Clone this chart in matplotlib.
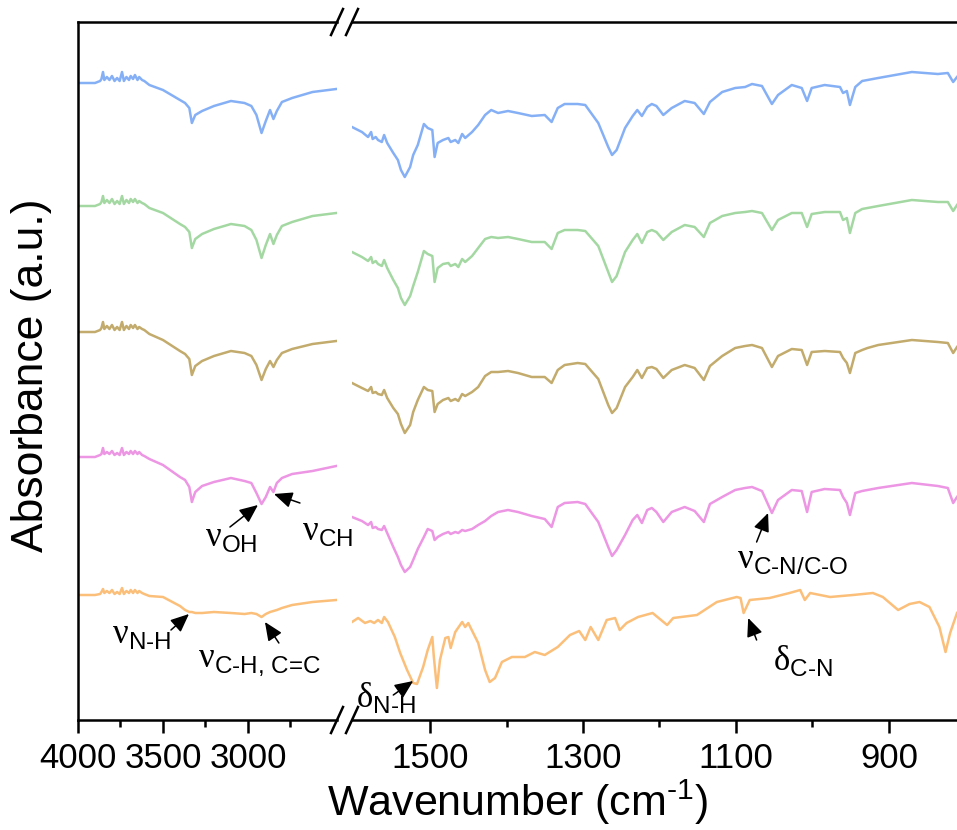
import numpy as np
import matplotlib
matplotlib.use("Agg")
import matplotlib.pyplot as plt

plt.rcParams['font.family'] = ['Liberation Sans', 'DejaVu Sans']
plt.rcParams['mathtext.fontset'] = 'custom'
plt.rcParams['mathtext.rm'] = 'Liberation Sans'
plt.rcParams['mathtext.sf'] = 'Liberation Serif'

# ---- data (absorbance drawn as depth below each trace's baseline, offsets stack the traces)
colors = ['#86b0f6', '#a4d8a2', '#c2ab6c', '#ec96e4', '#fbbf7a']
offsets = [637, 514, 388, 263, 125]

left_wn = [4000, 3900, 3870, 3862, 3853, 3845, 3830, 3815, 3800, 3785, 3770, 3755, 3741, 3730,
           3715, 3700, 3690, 3676, 3665, 3650, 3640, 3623, 3610, 3580, 3500, 3400, 3370, 3345,
           3330, 3310, 3270, 3200, 3100, 3020, 2980, 2950, 2920, 2895, 2870, 2850, 2830, 2800,
           2740, 2620, 2480]

blue_left = [0, 0, -2, -4, -11, -3, -6, -3, -7, -2, -5, -2, -11, -2, -6, -3, -7, -4, -8, -3, -6, -3,
             -2, 2, 7, 17, 20, 25, 40, 32, 28, 23, 18, 20, 23, 32, 50, 38, 27, 36, 28, 19, 15, 9, 6]
green_left = [0, 0, -2, -4, -10, -3, -6, -3, -7, -2, -5, -2, -10, -2, -6, -3, -7, -4, -7, -3, -5, -3,
              -2, 2, 7, 18, 21, 26, 42, 33, 28, 23, 18, 20, 24, 34, 52, 39, 28, 38, 29, 20, 16, 10, 7]
tan_left = [0, 0, -2, -4, -10, -3, -6, -3, -7, -2, -5, -2, -10, -2, -6, -3, -7, -4, -7, -3, -5, -3,
            -2, 2, 8, 19, 22, 27, 43, 34, 29, 24, 19, 21, 24, 33, 48, 37, 29, 35, 28, 21, 17, 12, 9]
pink_left = [0, 0, -2, -3, -9, -3, -5, -3, -6, -2, -4, -2, -9, -2, -5, -3, -6, -3, -6, -3, -5, -2,
             -1, 2, 8, 20, 23, 30, 45, 35, 29, 25, 21, 24, 26, 36, 47, 40, 30, 35, 26, 21, 17, 14, 9]
orange_left = [0, 0, -1, -3, -6, -2, -4, -2, -5, -1, -3, -1, -7, -1, -4, -2, -5, -2, -5, -2, -4, -2,
               -1, 1, 2, 11, 15, 17, 17, 18, 18, 17, 18, 19, 18, 19, 22, 19, 17, 16, 15, 13, 10, 7, 5]

right_wn = [1602, 1589, 1581, 1577, 1575, 1571, 1568, 1563, 1560, 1556,
            1548, 1542, 1538, 1533, 1526, 1522, 1516, 1508, 1503, 1497,
            1494, 1490, 1483, 1476, 1473, 1467, 1463, 1458, 1454, 1445,
            1437, 1428, 1420, 1411, 1398, 1385, 1367, 1350, 1341, 1333,
            1324, 1307, 1297, 1280, 1267, 1262, 1256, 1245, 1235, 1229,
            1223, 1216, 1210, 1204, 1195, 1184, 1167, 1154, 1142, 1134,
            1118, 1101, 1088, 1079, 1066, 1053, 1045, 1027, 1014, 1007,
            1001, 984, 964, 960, 955, 951, 944, 935, 928, 914,
            870, 836, 823, 816, 811]

blue_right = [44, 49, 54, 49, 56, 54, 57, 59, 52, 60,
              70, 77, 87, 94, 84, 72, 62, 41, 45, 47,
              74, 60, 57, 55, 59, 57, 60, 51, 55, 49,
              42, 32, 27, 30, 28, 30, 33, 32, 39, 25,
              21, 21, 22, 40, 64, 72, 67, 45, 33, 27,
              33, 24, 21, 23, 32, 25, 18, 20, 31, 19,
              9, 5, 4, 1, 3, 21, 12, 2, 5, 18,
              5, 2, 4, 10, 8, 22, 4, -2, -3, -5,
              -11, -9, -10, -1, -6]
green_right = [46, 51, 55, 51, 57, 55, 58, 60, 54, 62,
               74, 82, 92, 99, 90, 80, 66, 45, 48, 50,
               76, 62, 58, 57, 60, 58, 61, 53, 56, 50,
               42, 33, 31, 32, 31, 33, 36, 36, 43, 27,
               24, 24, 25, 40, 66, 76, 70, 46, 34, 28,
               37, 26, 24, 26, 34, 26, 19, 21, 31, 17,
               10, 7, 6, 5, 7, 24, 14, 7, 7, 21,
               8, 6, 6, 14, 12, 27, 7, 3, 2, 0,
               -6, -4, -4, 5, -1]
tan_right = [51, 56, 59, 55, 61, 60, 62, 63, 58, 66,
             76, 82, 92, 101, 93, 80, 68, 55, 58, 59,
             80, 72, 68, 66, 69, 67, 69, 62, 64, 60,
             55, 44, 40, 40, 39, 41, 45, 45, 51, 38,
             33, 31, 32, 47, 73, 81, 76, 55, 45, 38,
             46, 36, 35, 37, 46, 38, 33, 36, 48, 34,
             24, 16, 14, 13, 16, 35, 24, 17, 18, 33,
             20, 19, 20, 26, 31, 41, 21, 18, 16, 13,
             8, 10, 11, 21, 15]
pink_right = [60, 64, 68, 65, 71, 70, 72, 73, 69, 76,
              90, 100, 108, 115, 110, 103, 92, 80, 72, 74,
              83, 80, 77, 75, 77, 75, 76, 73, 74, 72,
              68, 64, 59, 55, 53, 55, 59, 62, 70, 50,
              46, 45, 47, 65, 90, 99, 93, 78, 63, 58,
              66, 53, 51, 55, 65, 55, 50, 54, 65, 47,
              40, 33, 31, 30, 34, 56, 43, 33, 34, 55,
              35, 32, 33, 40, 46, 58, 36, 34, 33, 31,
              26, 29, 31, 46, 40]

orange_right_wn = [1602, 1594, 1585, 1578, 1573, 1568, 1563, 1560, 1555, 1546,
                   1539, 1530, 1522, 1517, 1509, 1503, 1497, 1495, 1491, 1487,
                   1480, 1476, 1473, 1467, 1458, 1454, 1450, 1437, 1428, 1422,
                   1415, 1406, 1393, 1376, 1363, 1350, 1333, 1317, 1305, 1297,
                   1290, 1280, 1269, 1258, 1252, 1243, 1228, 1209, 1190, 1182,
                   1151, 1125, 1099, 1094, 1090, 1082, 1056, 1030, 1016, 1010,
                   1003, 977, 947, 921, 908, 888, 873, 860, 847, 834,
                   826, 820, 811]
orange_right = [27, 23, 28, 26, 28, 25, 28, 22, 27, 42,
                58, 75, 88, 89, 72, 55, 42, 62, 93, 65,
                43, 42, 53, 37, 27, 32, 28, 48, 75, 87,
                83, 67, 62, 62, 57, 60, 52, 40, 36, 45,
                32, 45, 25, 23, 35, 28, 22, 18, 30, 23,
                20, 7, 2, 3, 18, 5, 3, -2, -5, 5,
                -2, 2, 0, -2, 2, 15, 9, 7, 12, 32,
                57, 38, 18]

left_traces = [blue_left, green_left, tan_left, pink_left, orange_left]
right_traces = [(right_wn, blue_right), (right_wn, green_right), (right_wn, tan_right),
                (right_wn, pink_right), (orange_right_wn, orange_right)]

# ---- figure
fig = plt.figure(figsize=(9.57, 8.30), dpi=100)
ax1 = fig.add_axes([78 / 957, 110 / 830, 259 / 957, 698 / 830])
ax2 = fig.add_axes([352 / 957, 110 / 830, 605 / 957, 698 / 830])

for off, col, dep in zip(offsets, colors, left_traces):
    ax1.plot(left_wn, off - np.array(dep), color=col, lw=1.8, solid_joinstyle='round')
for off, col, (wn, dep) in zip(offsets, colors, right_traces):
    ax2.plot(wn, off - np.array(dep), color=col, lw=1.8, solid_joinstyle='round')

ax1.set_xlim(4000, 2476)
ax2.set_xlim(1602, 811)
for ax in (ax1, ax2):
    ax.set_ylim(0, 698)
    ax.set_yticks([])
    ax.spines['right'].set_visible(False)
    for s in ax.spines.values():
        s.set_linewidth(1.8)
    ax.tick_params(axis='x', which='major', length=9, width=1.8, labelsize=25, pad=7)
    ax.tick_params(axis='x', which='minor', length=5, width=1.8)
ax2.spines['left'].set_visible(False)

ax1.set_xticks([4000, 3500, 3000])
ax1.set_xticks([3750, 3250, 2750], minor=True)
ax2.set_xticks([1500, 1300, 1100, 900])
ax2.set_xticks([1400, 1200, 1000], minor=True)

# break marks
dx1, dy1 = 6 / 259, 13 / 698
dx2 = 6 / 605
for yy in (0, 1):
    ax1.plot([1 - dx1, 1 + dx1], [yy - dy1, yy + dy1], color='black', lw=1.8,
             transform=ax1.transAxes, clip_on=False)
    ax2.plot([-dx2, dx2], [yy - dy1, yy + dy1], color='black', lw=1.8,
             transform=ax2.transAxes, clip_on=False)

# annotations
arrow = dict(arrowstyle='-|>,head_length=0.8,head_width=0.35', color='black', lw=1.1,
             shrinkA=0, shrinkB=0, mutation_scale=14)
fs = 25
ax1.text(3253, 174, r'$\mathsf{\nu}_{\text{OH}}$', fontsize=fs, ha='left', va='baseline')
ax1.annotate('', xy=(2941, 215), xytext=(3106, 193), arrowprops=arrow)
ax1.text(2682, 180, r'$\mathsf{\nu}_{\text{CH}}$', fontsize=fs, ha='left', va='baseline')
ax1.annotate('', xy=(2847, 226), xytext=(2694, 217), arrowprops=arrow)
ax1.text(3800, 77, r'$\mathsf{\nu}_{\text{N-H}}$', fontsize=fs, ha='left', va='baseline')
ax1.annotate('', xy=(3347, 106), xytext=(3453, 90), arrowprops=arrow)
ax1.text(3294, 53, r'$\mathsf{\nu}_{\text{C-H, C=C}}$', fontsize=fs, ha='left', va='baseline')
ax1.annotate('', xy=(2900, 98), xytext=(2818, 77), arrowprops=arrow)
ax2.text(1597, 13, r'$\mathsf{\delta}_{\text{N-H}}$', fontsize=fs, ha='left', va='baseline')
ax2.annotate('', xy=(1522, 39), xytext=(1548, 25), arrowprops=arrow)
ax2.text(1099, 152, r'$\mathsf{\nu}_{\text{C-N/C-O}}$', fontsize=fs, ha='left', va='baseline')
ax2.annotate('', xy=(1058, 207), xytext=(1073, 178), arrowprops=arrow)
ax2.text(1052, 50, r'$\mathsf{\delta}_{\text{C-N}}$', fontsize=fs, ha='left', va='baseline')
ax2.annotate('', xy=(1084, 102), xytext=(1073, 80), arrowprops=arrow)

fig.text(32 / 957, 1 - 375 / 830, 'Absorbance (a.u.)', fontsize=32, rotation=90,
         ha='center', va='center')
fig.text(518 / 957, 1 - 816 / 830, r'Wavenumber (cm$^{\text{-}1}$)', fontsize=31,
         ha='center', va='baseline')

fig.savefig('out.png', dpi=100, facecolor='white')
